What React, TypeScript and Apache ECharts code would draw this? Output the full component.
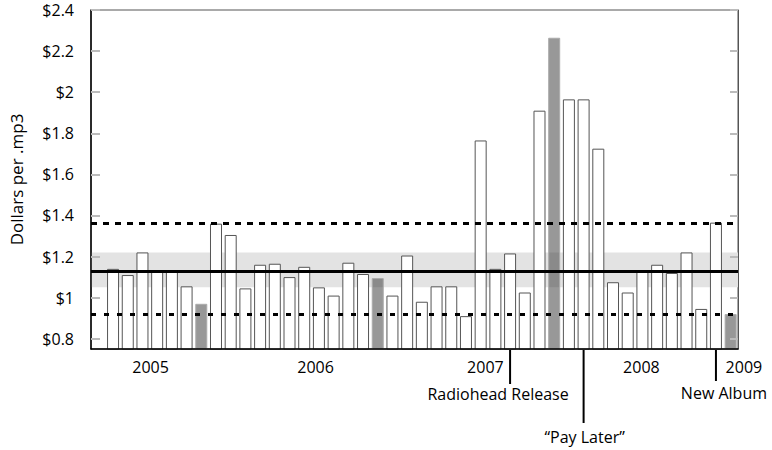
import React, { useEffect, useRef } from "react";
import * as echarts from "echarts";

// Slot 0 is empty; one bar per slot afterwards
const prices: (number | null)[] = [
  null, 1.14, 1.11, 1.22, 1.13, 1.125, 1.055, 0.97, 1.36, 1.305, 1.045,
  1.16, 1.165, 1.1, 1.15, 1.05, 1.01, 1.17, 1.115, 1.095, 1.01,
  1.205, 0.98, 1.055, 1.055, 0.91, 1.765, 1.14, 1.215, 1.025, 1.91,
  2.265, 1.965, 1.965, 1.725, 1.075, 1.025, 1.125, 1.16, 1.12, 1.22,
  0.945, 1.365, 0.92,
];
const highlighted = [7, 19, 31, 43];
const slots = prices.map((_, i) => String(i));

const yTicks = [0.8, 1, 1.2, 1.4, 1.6, 1.8, 2, 2.2, 2.4];
const yMin = 0.75;
const yMax = 2.4;

const upperLevel = 1.36;
const meanLevel = 1.13;
const lowerLevel = 0.92;
const bandLow = 1.05;
const bandHigh = 1.22;

const yearLabels = ["2005", "2006", "2007", "2008", "2009"];
const yearSlotPos = [3.55, 14.77, 26.32, 36.93, 43.9];

const eventLabels = ["Radiohead Release", "\u201CPay Later\u201D", "New Album"];
const eventSlot = [28, 33, 42];

// styling for annotations (pixel offsets)
const eventLineLen = [34, 73, 31];
const eventTextDx = [-12, 1, 8];
const eventTextY = [394, 437, 393];

const FONT = "'Open Sans', sans-serif";

export default function App() {
  const ref = useRef<HTMLDivElement>(null);

  useEffect(() => {
    if (!ref.current) return;
    const chart = echarts.init(ref.current, undefined, { renderer: "svg" });

    const whiteData = prices.map((v, i) => (highlighted.includes(i) ? null : v));
    const greyData = prices.map((v, i) => (highlighted.includes(i) ? v : null));

    chart.setOption({
      animation: false,
      textStyle: { fontFamily: FONT },
      grid: {
        left: 87,
        top: 10,
        width: 651,
        height: 339,
        show: true,
        borderColor: "#555",
        borderWidth: 1,
        backgroundColor: "transparent",
      },
      xAxis: {
        type: "category",
        data: slots,
        boundaryGap: true,
        z: 10,
        axisLine: { show: true, lineStyle: { color: "#000", width: 1.5 } },
        axisTick: { show: false },
        axisLabel: { show: false },
        splitLine: { show: false },
      },
      yAxis: [
        {
          type: "value",
          min: yMin,
          max: yMax,
          position: "left",
          z: 10,
          name: "Dollars per .mp3",
          nameLocation: "middle",
          nameGap: 66,
          nameTextStyle: { fontSize: 17, color: "#000", fontFamily: FONT },
          axisLine: { show: true, lineStyle: { color: "#000", width: 1.5 } },
          axisTick: {
            show: true,
            inside: true,
            length: 9,
            customValues: yTicks,
            lineStyle: { color: "#bbb", width: 2 },
          },
          axisLabel: {
            show: true,
            customValues: yTicks,
            margin: 17,
            fontSize: 16,
            color: "#000",
            fontFamily: FONT,
            formatter: (v: number) => "$" + String(Math.round(v * 10) / 10),
          },
          splitLine: { show: false },
        },
        {
          type: "value",
          min: yMin,
          max: yMax,
          position: "right",
          z: 10,
          axisLine: { show: true, lineStyle: { color: "#555", width: 1 } },
          axisTick: {
            show: true,
            inside: true,
            length: 8,
            customValues: yTicks,
            lineStyle: { color: "#bbb", width: 2 },
          },
          axisLabel: { show: false },
          splitLine: { show: false },
        },
      ],
      series: [
        {
          type: "line",
          data: prices.map(() => null),
          showSymbol: false,
          silent: true,
          z: 1,
          lineStyle: { opacity: 0 },
          markArea: {
            silent: true,
            itemStyle: { color: "#e3e3e3" },
            data: [[{ yAxis: bandLow }, { yAxis: bandHigh }]],
          },
          markLine: {
            silent: true,
            symbol: ["none", "none"],
            label: { show: false },
            data: [
              { yAxis: upperLevel, lineStyle: { color: "#000", width: 3, type: [6, 6] } },
              { yAxis: meanLevel, lineStyle: { color: "#000", width: 3, type: "solid" } },
              { yAxis: lowerLevel, lineStyle: { color: "#000", width: 3, type: [5, 8] } },
            ],
          },
        },
        {
          type: "bar",
          data: whiteData,
          barWidth: 12,
          z: 3,
          itemStyle: { color: "#fff", borderColor: "#555", borderWidth: 1 },
        },
        {
          type: "bar",
          data: greyData,
          barWidth: 12,
          barGap: "-100%",
          z: 4,
          itemStyle: { color: "rgba(50,50,50,0.5)", borderColor: "#aaa", borderWidth: 1 },
        },
      ],
    });

    const x0 = chart.convertToPixel({ xAxisIndex: 0 }, 0) as number;
    const xN = chart.convertToPixel({ xAxisIndex: 0 }, prices.length - 1) as number;
    const step = (xN - x0) / (prices.length - 1);
    const slotX = (p: number) => x0 + step * p;
    const yBase = chart.convertToPixel({ yAxisIndex: 0 }, yMin) as number;

    const graphics: any[] = [];
    yearLabels.forEach((t, i) => {
      graphics.push({
        type: "text",
        silent: true,
        style: {
          text: t,
          x: slotX(yearSlotPos[i]),
          y: yBase + 18,
          fill: "#000",
          fontSize: 16,
          fontFamily: FONT,
          align: "center",
          verticalAlign: "middle",
        },
      });
    });
    eventLabels.forEach((t, i) => {
      const lx = slotX(eventSlot[i]);
      graphics.push({
        type: "line",
        silent: true,
        shape: { x1: lx, y1: yBase + 1, x2: lx, y2: yBase + 1 + eventLineLen[i] },
        style: { stroke: "#000", lineWidth: 2 },
      });
      graphics.push({
        type: "text",
        silent: true,
        style: {
          text: t,
          x: lx + eventTextDx[i],
          y: eventTextY[i],
          fill: "#000",
          fontSize: 16,
          fontFamily: FONT,
          align: "center",
          verticalAlign: "middle",
        },
      });
    });
    chart.setOption({ graphic: graphics });

    return () => chart.dispose();
  }, []);

  return (
    <div
      ref={ref}
      style={{ position: "absolute", left: 0, top: 0, width: 772, height: 450 }}
    />
  );
}
